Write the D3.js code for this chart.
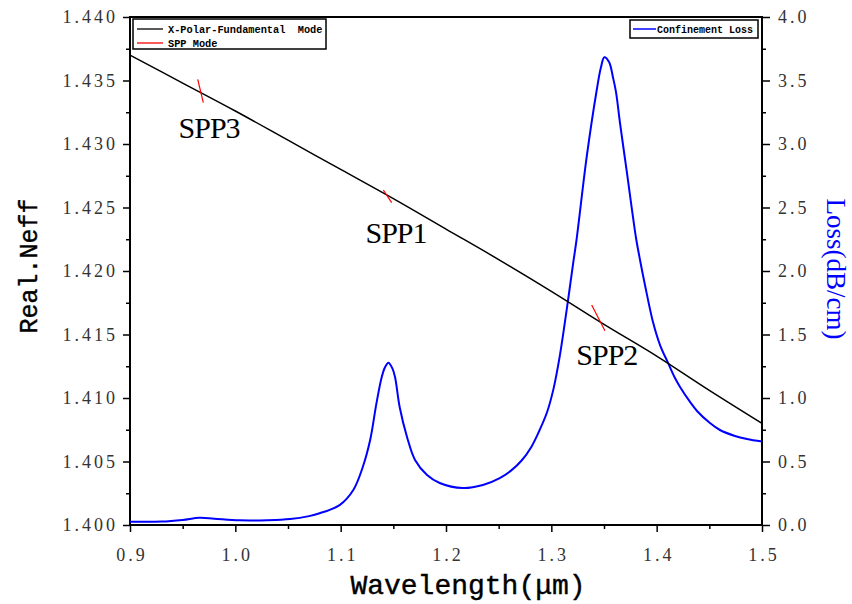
<!DOCTYPE html>
<html>
<head>
<meta charset="utf-8">
<script src="https://cdn.jsdelivr.net/npm/d3@7"></script>
<style>
  html, body { margin: 0; padding: 0; background: #fff; }
  svg { display: block; }
  .axis text { font-family: "Liberation Serif", "Times New Roman", serif; font-size: 18px; letter-spacing: 3px; fill: #333; }
</style>
</head>
<body>
<svg id="chart" width="852" height="604"></svg>
<script>
// Real part of the effective index of the x-polarized fundamental mode
const neffWavelength = [0.90, 0.95, 1.00, 1.05, 1.10, 1.15, 1.20, 1.25, 1.30, 1.35, 1.40, 1.45, 1.50];
const neffValues     = [1.4370, 1.4348, 1.4326, 1.4303, 1.4280, 1.4257, 1.4233,
                        1.4209, 1.4184, 1.4158, 1.4133, 1.4106, 1.4080];

// Confinement loss (dB/cm)
const lossWavelength = [0.900, 0.930, 0.950, 0.966, 0.980, 1.004, 1.030, 1.052, 1.070, 1.080,
                        1.099, 1.112, 1.121, 1.128, 1.134, 1.139, 1.142, 1.1453, 1.149, 1.1516,
                        1.156, 1.163, 1.1706, 1.182, 1.194, 1.216, 1.235, 1.251, 1.262, 1.272,
                        1.281, 1.289, 1.296, 1.302, 1.308, 1.315, 1.3207, 1.324, 1.3336, 1.3431,
                        1.347, 1.3503, 1.3548, 1.3586, 1.3614, 1.3652, 1.3718, 1.3766, 1.3804, 1.3842,
                        1.3889, 1.3965, 1.4032, 1.4108, 1.4174, 1.4222, 1.4317, 1.4383, 1.4506, 1.4601,
                        1.4743, 1.4857, 1.500];
const lossValues     = [0.026, 0.027, 0.040, 0.057, 0.050, 0.037, 0.038, 0.047, 0.070, 0.092,
                        0.157, 0.276, 0.457, 0.669, 0.960, 1.165, 1.240, 1.278, 1.235, 1.165,
                        0.929, 0.693, 0.512, 0.394, 0.331, 0.291, 0.315, 0.370, 0.430, 0.510,
                        0.615, 0.750, 0.890, 1.070, 1.330, 1.720, 2.060, 2.250, 2.900, 3.425,
                        3.600, 3.683, 3.646, 3.522, 3.409, 3.165, 2.772, 2.480, 2.260, 2.087,
                        1.890, 1.598, 1.417, 1.276, 1.157, 1.087, 0.969, 0.898, 0.803, 0.748,
                        0.701, 0.677, 0.657];

// SPP mode dispersion segments near each phase-matching point
const sppNames      = ["SPP3", "SPP1", "SPP2"];
const sppWavelength = [[0.9643, 0.9696], [1.1405, 1.1484], [1.3383, 1.3509]];
const sppNeff       = [[1.43509, 1.43325], [1.42638, 1.42538], [1.41732, 1.41530]];

// Axis ticks
const xTicks      = [0.9, 1.0, 1.1, 1.2, 1.3, 1.4, 1.5];
const xMinorTicks = [0.95, 1.05, 1.15, 1.25, 1.35, 1.45];
const neffTicks      = [1.400, 1.405, 1.410, 1.415, 1.420, 1.425, 1.430, 1.435, 1.440];
const neffMinorTicks = [1.4025, 1.4075, 1.4125, 1.4175, 1.4225, 1.4275, 1.4325, 1.4375];
const lossTicks      = [0.0, 0.5, 1.0, 1.5, 2.0, 2.5, 3.0, 3.5, 4.0];
const lossMinorTicks = [0.25, 0.75, 1.25, 1.75, 2.25, 2.75, 3.25, 3.75];

const legendLeft  = ["X-Polar-Fundamental  Mode", "SPP Mode"];
const legendRight = ["Confinement Loss"];

const W = 852, H = 604;
const margin = { left: 130, right: 90, top: 17, bottom: 79 };
const x0 = margin.left, x1 = W - margin.right;
const yTop = margin.top, yBot = H - margin.bottom;

const svg = d3.select("#chart");

const x = d3.scaleLinear().domain([0.9, 1.5]).range([x0, x1]);
const yN = d3.scaleLinear().domain([1.400, 1.440]).range([yBot, yTop]);
const yL = d3.scaleLinear().domain([0, 4]).range([yBot, yTop]);

const serifFont = "'Liberation Serif', 'Times New Roman', serif";

function styleAxis(g) {
  g.attr("class", "axis").attr("font-family", null).attr("font-size", null);
  g.select(".domain").remove();
  g.selectAll(".tick line").attr("stroke", "#000").attr("stroke-width", 1.5);
}

// Bottom axis
svg.append("g")
  .attr("transform", `translate(0,${yBot})`)
  .call(d3.axisBottom(x).tickValues(xMinorTicks).tickSize(4).tickFormat(""))
  .call(styleAxis);
svg.append("g")
  .attr("transform", `translate(0,${yBot})`)
  .call(d3.axisBottom(x).tickValues(xTicks).tickSize(7).tickFormat(d3.format(".1f")))
  .call(styleAxis)
  .call(g => g.selectAll(".tick text").attr("dy", null).attr("y", 36).attr("dx", "1.5px"));

// Left axis
svg.append("g")
  .attr("transform", `translate(${x0},0)`)
  .call(d3.axisLeft(yN).tickValues(neffMinorTicks).tickSize(4).tickFormat(""))
  .call(styleAxis);
svg.append("g")
  .attr("transform", `translate(${x0},0)`)
  .call(d3.axisLeft(yN).tickValues(neffTicks).tickSize(7).tickFormat(d3.format(".3f")))
  .call(styleAxis)
  .call(g => g.selectAll(".tick text").attr("x", -12));

// Right axis
svg.append("g")
  .attr("transform", `translate(${x1},0)`)
  .call(d3.axisRight(yL).tickValues(lossMinorTicks).tickSize(4).tickFormat(""))
  .call(styleAxis);
svg.append("g")
  .attr("transform", `translate(${x1},0)`)
  .call(d3.axisRight(yL).tickValues(lossTicks).tickSize(8).tickFormat(d3.format(".1f")))
  .call(styleAxis)
  .call(g => g.selectAll(".tick text").attr("x", 16));

// Frame
svg.append("rect")
  .attr("x", x0).attr("y", yTop)
  .attr("width", x1 - x0).attr("height", yBot - yTop)
  .attr("fill", "none").attr("stroke", "#000").attr("stroke-width", 2);

// Confinement loss curve
const lossLine = d3.line()
  .x(i => x(lossWavelength[i]))
  .y(i => yL(lossValues[i]))
  .curve(d3.curveCatmullRom.alpha(0.5));
svg.append("path")
  .attr("d", lossLine(d3.range(lossWavelength.length)))
  .attr("fill", "none").attr("stroke", "#0000ff").attr("stroke-width", 2);

// Fundamental mode effective index
const neffLine = d3.line()
  .x(i => x(neffWavelength[i]))
  .y(i => yN(neffValues[i]))
  .curve(d3.curveCatmullRom.alpha(0.5));
svg.append("path")
  .attr("d", neffLine(d3.range(neffWavelength.length)))
  .attr("fill", "none").attr("stroke", "#000").attr("stroke-width", 1.5);

// SPP mode segments and labels
sppNames.forEach((name, k) => {
  const pts = sppWavelength[k].map((w, j) => [x(w), yN(sppNeff[k][j])]);
  svg.append("path")
    .attr("d", d3.line()(pts))
    .attr("fill", "none").attr("stroke", "#ff0000").attr("stroke-width", 1.2);
  const cx = (pts[0][0] + pts[1][0]) / 2;
  const cy = (pts[0][1] + pts[1][1]) / 2;
  svg.append("text")
    .attr("x", cx - 22).attr("y", cy + 47)
    .attr("font-family", serifFont)
    .attr("font-size", 30)
    .style("letter-spacing", "-1px")
    .attr("fill", "#000")
    .text(name);
});

// Axis titles
svg.append("text")
  .attr("transform", `translate(37,266) rotate(-90)`)
  .attr("text-anchor", "middle")
  .attr("font-family", "'Liberation Mono', monospace")
  .attr("font-size", 25)
  .attr("fill", "#000")
  .attr("stroke", "#000").attr("stroke-width", 0.4)
  .text("Real.Neff");

svg.append("text")
  .attr("x", 468).attr("y", 594)
  .attr("text-anchor", "middle")
  .attr("font-family", "'Liberation Mono', monospace")
  .attr("font-size", 28)
  .attr("fill", "#000")
  .attr("stroke", "#000").attr("stroke-width", 0.4)
  .text("Wavelength(μm)");

svg.append("text")
  .attr("transform", `translate(827,269) rotate(90)`)
  .attr("text-anchor", "middle")
  .attr("font-family", serifFont)
  .attr("font-size", 27)
  .attr("fill", "#0000ff")
  .text("Loss(dB/cm)");

// Legends
const legendFont = "'Liberation Mono', monospace";
const lg1 = svg.append("g");
lg1.append("rect")
  .attr("x", 133).attr("y", 19).attr("width", 193).attr("height", 30)
  .attr("fill", "#fff").attr("stroke", "#000").attr("stroke-width", 1.5);
const lgColors1 = ["#000", "#ff0000"];
legendLeft.forEach((t, i) => {
  const yy = 29 + i * 14;
  lg1.append("line")
    .attr("x1", 137).attr("x2", 163).attr("y1", yy).attr("y2", yy)
    .attr("stroke", lgColors1[i]).attr("stroke-width", 1.3);
  lg1.append("text")
    .attr("x", 168).attr("y", yy + 3.5)
    .attr("font-family", legendFont)
    .attr("font-size", 10.3)
    .attr("font-weight", "bold")
    .style("white-space", "pre")
    .attr("fill", "#000")
    .text(t);
});

const lg2 = svg.append("g");
lg2.append("rect")
  .attr("x", 630).attr("y", 20).attr("width", 128).attr("height", 18)
  .attr("fill", "#fff").attr("stroke", "#000").attr("stroke-width", 1.5);
legendRight.forEach((t) => {
  const yy = 29;
  lg2.append("line")
    .attr("x1", 633).attr("x2", 656).attr("y1", yy).attr("y2", yy)
    .attr("stroke", "#0000ff").attr("stroke-width", 1.5);
  lg2.append("text")
    .attr("x", 657).attr("y", yy + 3.5)
    .attr("font-family", legendFont)
    .attr("font-size", 10)
    .attr("font-weight", "bold")
    .attr("fill", "#000")
    .text(t);
});
</script>
</body>
</html>
